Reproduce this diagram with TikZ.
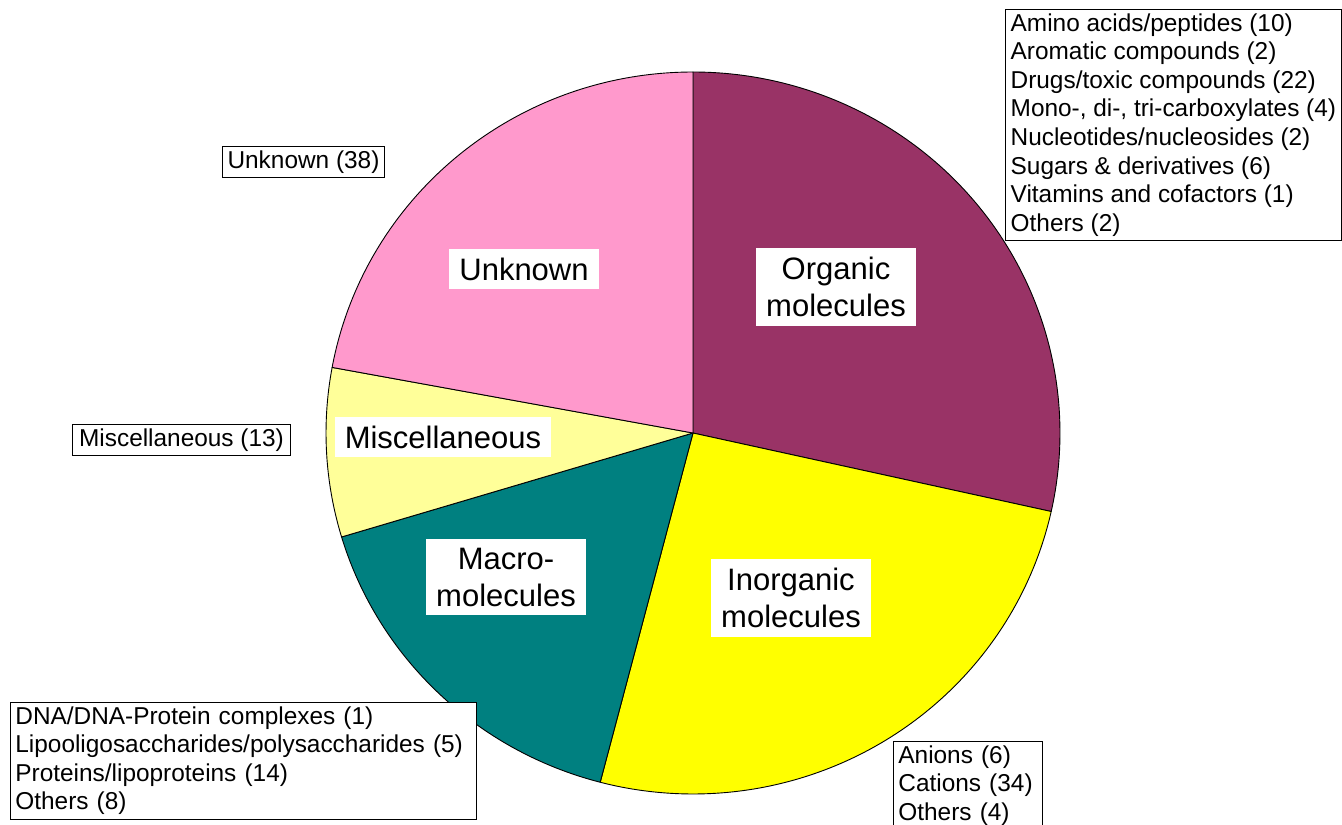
\documentclass[tikz,border=0pt]{standalone}
\usepackage{fontspec}
\setmainfont{Liberation Sans}
\usetikzlibrary{positioning, calc}

\definecolor{orgcol}{HTML}{993366}
\definecolor{inorgcol}{HTML}{FFFF00}
\definecolor{macrocol}{HTML}{008080}
\definecolor{misccol}{HTML}{FFFF99}
\definecolor{unkcol}{HTML}{FF99CC}

\begin{document}
\begin{tikzpicture}[
    x=1pt, y=1pt,
    slice/.style={draw=black, line width=0.9pt, line join=round},
    slicetext/.style={fill=white, align=center, inner xsep=10pt, inner ysep=9pt, font=\fontsize{31}{37}\selectfont},
    listbox/.style={draw, line width=0.8pt, fill=white, align=left, inner xsep=5pt, inner ysep=4pt, font=\fontsize{24.4}{28.6}\selectfont}
]

\useasboundingbox (0, 0) rectangle (1342, -825);
\clip (0, 0) rectangle (1342, -825);

\coordinate (C) at (693, -433);

\draw[slice, fill=orgcol] (C) -- ++(90:367 and 361) arc[start angle=90, end angle=-12.56, x radius=367, y radius=361] -- cycle;
\draw[slice, fill=inorgcol] (C) -- ++(-12.56:367 and 361) arc[start angle=-12.56, end angle=-104.65, x radius=367, y radius=361] -- cycle;
\draw[slice, fill=macrocol] (C) -- ++(-104.65:367 and 361) arc[start angle=-104.65, end angle=-163.26, x radius=367, y radius=361] -- cycle;
\draw[slice, fill=misccol] (C) -- ++(-163.26:367 and 361) arc[start angle=-163.26, end angle=-190.47, x radius=367, y radius=361] -- cycle;
\draw[slice, fill=unkcol] (C) -- ++(-190.47:367 and 361) arc[start angle=-190.47, end angle=-270, x radius=367, y radius=361] -- cycle;

\node (Organic) at (836, -287) [slicetext] {Organic\\molecules};
\node (Inorganic) at (791, -598) [slicetext] {Inorganic\\molecules};
\node (Macro) at (506, -577) [slicetext] {Macro-\\molecules};
\node (Misc) at (443, -437) [slicetext] {Miscellaneous};
\node (Unknown) at (524, -269) [slicetext] {Unknown};

\node (OrgList) at (1341.5, -9) [listbox, anchor=north east] {Amino acids/peptides (10)\\Aromatic compounds (2)\\Drugs/toxic compounds (22)\\Mono-, di-, tri-carboxylates (4)\\Nucleotides/nucleosides (2)\\Sugars \& derivatives (6)\\Vitamins and cofactors (1)\\Others (2)};
\node (InorgList) at (893, -741) [listbox, anchor=north west, text width=139pt] {Anions (6)\\Cations (34)\\Others (4)};
\node (MacroList) at (10, -702) [listbox, anchor=north west, text width=456pt] {DNA/DNA-Protein complexes (1)\\Lipooligosaccharides/polysaccharides (5)\\Proteins/lipoproteins (14)\\Others (8)};
\node (MiscList) at (181.5, -440) [listbox, inner xsep=7pt] {Miscellaneous (13)};
\node (UnkList) at (303.5, -162) [listbox] {Unknown (38)};

\end{tikzpicture}
\end{document}
